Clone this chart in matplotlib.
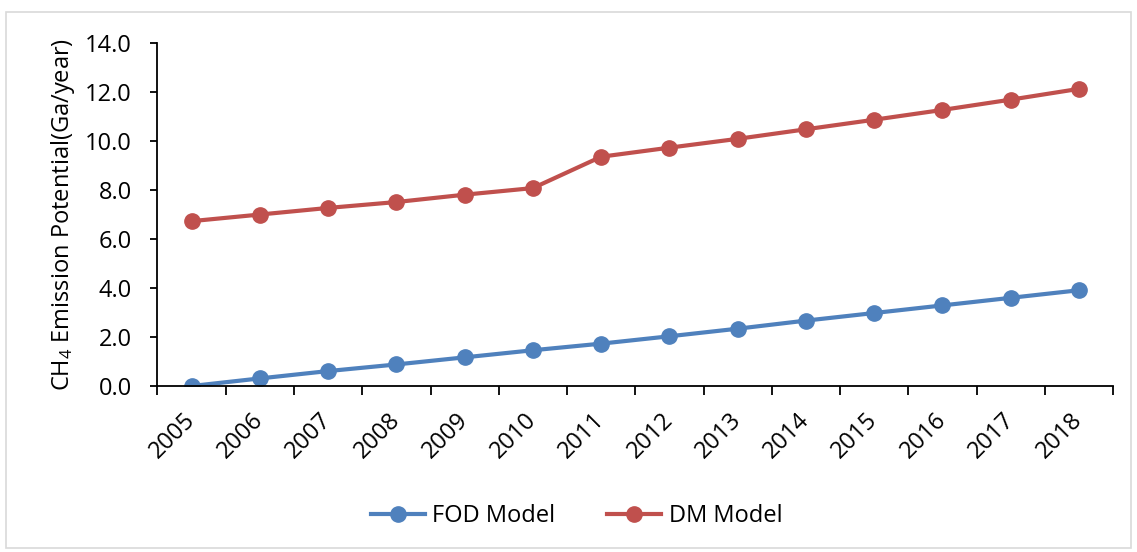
import numpy as np
import matplotlib
matplotlib.use("Agg")
import matplotlib.pyplot as plt
from matplotlib.patches import Rectangle

plt.rcParams['font.family'] = ['Open Sans', 'DejaVu Sans']
plt.rcParams['mathtext.fontset'] = 'custom'
plt.rcParams['mathtext.rm'] = 'Open Sans'
plt.rcParams['mathtext.it'] = 'Open Sans'

years = ['2005', '2006', '2007', '2008', '2009', '2010', '2011',
         '2012', '2013', '2014', '2015', '2016', '2017', '2018']
fod = [0.0, 0.31, 0.61, 0.88, 1.17, 1.46, 1.73,
       2.03, 2.34, 2.67, 2.98, 3.29, 3.60, 3.91]
dm = [6.73, 7.00, 7.27, 7.51, 7.81, 8.08, 9.36,
      9.73, 10.09, 10.48, 10.87, 11.27, 11.69, 12.13]

blue = '#4F81BD'
red = '#C0504D'
fs = 17

fig = plt.figure(figsize=(11.37, 5.52), dpi=100)
ax = fig.add_axes([0.1385, 0.3007, 0.8405, 0.6213])

# light chart-area border
fig.patches.append(Rectangle((0.005, 0.007), 0.99, 0.971, transform=fig.transFigure,
                             fill=False, edgecolor='#d9d9d9', linewidth=1.2))

x = np.arange(len(years))
ax.plot(x, fod, color=blue, lw=3, marker='o', markersize=11, label='FOD Model')
ax.plot(x, dm, color=red, lw=3, marker='o', markersize=11, label='DM Model')

ax.set_xlim(-0.5, len(years) - 0.5)
ax.set_ylim(0, 14)
ax.set_yticks(np.arange(0, 15, 2))
ax.set_yticklabels([f'{v:.1f}' for v in np.arange(0, 15, 2)], fontsize=fs)

# category axis: tick marks between years, labels centred on each year
ax.set_xticks(np.arange(-0.5, len(years)))
ax.set_xticklabels([])
ax.set_xticks(x, minor=True)
ax.set_xticklabels(years, minor=True, rotation=45, ha='right', va='center',
                   rotation_mode='anchor', fontsize=fs)
ax.tick_params(axis='x', which='major', length=6.5, width=1.3, direction='out')
ax.tick_params(axis='x', which='minor', length=0, pad=22)
ax.tick_params(axis='y', length=5, width=1.3, direction='out', pad=13.5)

for s in ['top', 'right']:
    ax.spines[s].set_visible(False)
for s in ['left', 'bottom']:
    ax.spines[s].set_linewidth(1.3)

ax.set_ylabel(r'CH$_4$ Emission Potential(Ga/year)', fontsize=fs, labelpad=6)

fig.legend(loc='center', bbox_to_anchor=(0.507, 0.065), ncol=2, frameon=False,
           fontsize=fs, handlelength=2.3, columnspacing=2.2, handletextpad=0.3)

fig.savefig('out.png', dpi=100)
